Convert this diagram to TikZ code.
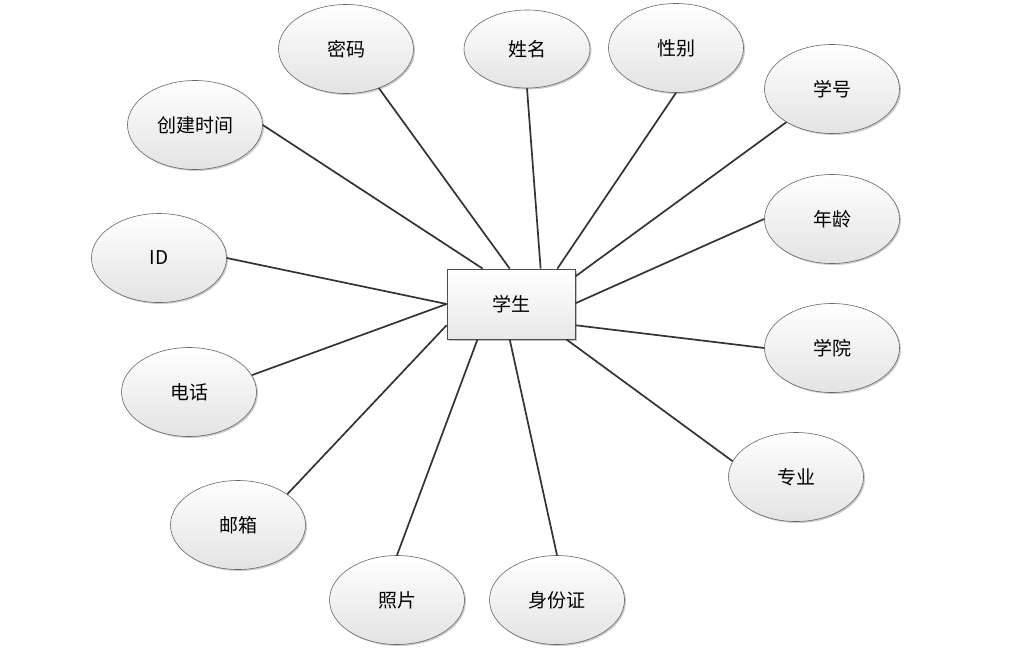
\documentclass[tikz,border=0pt]{standalone}
\usepackage{fontspec}
\setmainfont{Noto Sans CJK SC}
\usetikzlibrary{shapes.geometric,shadows,calc}
\begin{document}
\begin{tikzpicture}[x=1pt,y=-1pt,
  attr/.style={ellipse, draw=black!60, line width=0.6pt, top color=white, bottom color=black!11,
    minimum width=135pt, minimum height=89pt, inner sep=0pt,
    drop shadow={shadow xshift=1.5pt, shadow yshift=-1.5pt, opacity=0.2, fill=black},
    font=\fontsize{19}{22}\selectfont},
  entity/.style={rectangle, draw=black!70, line width=0.8pt, top color=white, bottom color=black!9,
    minimum width=128pt, minimum height=70pt, inner sep=0pt,
    drop shadow={shadow xshift=2pt, shadow yshift=-2pt, opacity=0.25, fill=black},
    font=\fontsize{19}{22}\selectfont},
  link/.style={draw=black!80, line width=1.7pt}]
\useasboundingbox (0,0) rectangle (1012,662);
\node[entity] (s) at (511,304) {学生};
\node[attr] (mm) at (346,49) {密码};
\node[attr, minimum width=126pt, minimum height=78pt] (xm) at (527,49) {姓名};
\node[attr] (xb) at (676,48) {性别};
\node[attr] (xh) at (832,89) {学号};
\node[attr] (cj) at (195,125) {创建时间};
\node[attr] (nl) at (832,219) {年龄};
\node[attr] (id) at (159,258) {ID};
\node[attr] (xy) at (832,348) {学院};
\node[attr] (dh) at (189,392) {电话};
\node[attr] (zy) at (796,477) {专业};
\node[attr] (yx) at (238,525) {邮箱};
\node[attr] (zp) at (397,600) {照片};
\node[attr] (sf) at (557,600) {身份证};
\coordinate (tcj) at ($(s.north west)!0.28!(s.north east)$);
\coordinate (tmm) at ($(s.north west)!0.49!(s.north east)$);
\coordinate (txm) at ($(s.north west)!0.73!(s.north east)$);
\coordinate (txb) at ($(s.north west)!0.86!(s.north east)$);
\coordinate (txh) at ($(s.north east)!0.11!(s.south east)$);
\coordinate (tnl) at ($(s.north east)!0.49!(s.south east)$);
\coordinate (txy) at ($(s.north east)!0.80!(s.south east)$);
\coordinate (tzy) at ($(s.south west)!0.93!(s.south east)$);
\coordinate (tsf) at ($(s.south west)!0.49!(s.south east)$);
\coordinate (tzp) at ($(s.south west)!0.24!(s.south east)$);
\coordinate (tyx) at ($(s.north west)!0.80!(s.south west)$);
\coordinate (tdh) at ($(s.north west)!0.50!(s.south west)$);
\draw[link] (cj.east) -- (tcj);
\draw[link] (mm.-50) -- (tmm);
\draw[link] (xm.south) -- (txm);
\draw[link] (xb.south) -- (txb);
\draw[link] (xh.216) -- (txh);
\draw[link] (nl.west) -- (tnl);
\draw[link] (xy.west) -- (txy);
\draw[link] (zy.166) -- (tzy);
\draw[link] (sf.north) -- (tsf);
\draw[link] (zp.north) -- (tzp);
\draw[link] (yx.32) -- (tyx);
\draw[link] (dh.15) -- (tdh);
\draw[link] (id.east) -- (tdh);
\end{tikzpicture}
\end{document}
